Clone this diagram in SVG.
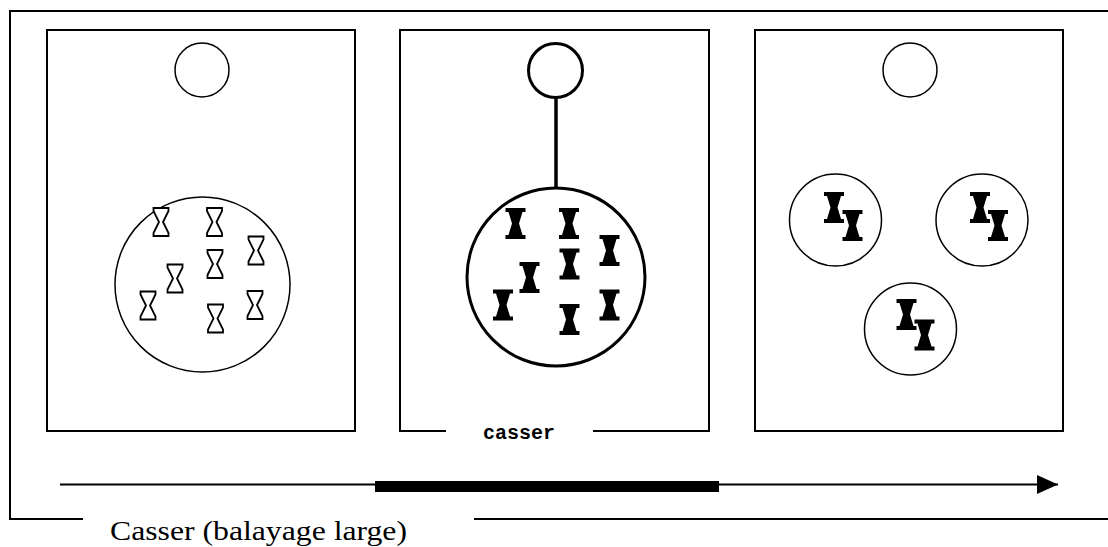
<svg xmlns="http://www.w3.org/2000/svg" width="1108" height="547" viewBox="0 0 1108 547">
<style>
.ln{stroke:#000;stroke-width:2;fill:none}
.panel{fill:#fff;stroke:#000;stroke-width:2}
.thin{fill:#fff;stroke:#000;stroke-width:1.5}
.bold{fill:#fff;stroke:#000;stroke-width:3}
.hg{fill:#fff;stroke:#000;stroke-width:1.8;stroke-linejoin:miter}
.hgb{fill:#000;stroke:none}
.cap{font-family:"Liberation Serif","Times New Roman",serif;font-size:27px;fill:#000}
.lbl{font-family:"Liberation Mono","Courier New",monospace;font-size:20px;font-weight:bold;fill:#000}
</style>
<defs>
<path id="hgThin" d="M-7.5,-14 H7.5 V-11 L2,0 L7.5,11 V14 H-7.5 V11 L-2,0 L-7.5,-11 Z"/>
<path id="hgBold" d="M-10,-15.5 H10 V-11.5 H7 L3.5,0 L7,11.5 H10 V15.5 H-10 V11.5 H-7 L-3.5,0 L-7,-11.5 H-10 Z"/>
<marker id="arr" markerWidth="22" markerHeight="20" refX="21" refY="10" orient="auto" markerUnits="userSpaceOnUse">
<path d="M0,0.5 L21,10 L0,19.5 Z" fill="#000"/>
</marker>
</defs>
<rect width="1108" height="547" fill="#fff"/>

<g id="frame">
<path class="ln" d="M1108,11 H10 V519 H83"/>
<path class="ln" d="M474,519 H1108"/>
<text class="cap" x="110" y="540" textLength="297" lengthAdjust="spacingAndGlyphs">Casser (balayage large)</text>
</g>

<g id="panel1">
<rect class="panel" x="47" y="30" width="308" height="401"/>
<circle class="thin" cx="202" cy="70" r="27"/>
<circle class="thin" cx="202.5" cy="284.5" r="87.5"/>
<g class="hg">
<use href="#hgThin" x="161" y="222"/>
<use href="#hgThin" x="214.5" y="222"/>
<use href="#hgThin" x="256" y="250.5"/>
<use href="#hgThin" x="215" y="264"/>
<use href="#hgThin" x="175" y="278.5"/>
<use href="#hgThin" x="148" y="305.5"/>
<use href="#hgThin" x="255" y="305"/>
<use href="#hgThin" x="215.5" y="318.5"/>
</g>
</g>

<g id="panel2">
<path class="ln" d="M446,431 H400 V30 H709 V431 H593"/>
<circle class="bold" cx="555.5" cy="70.5" r="27"/>
<circle class="bold" cx="556" cy="277" r="89"/>
<g class="hgb">
<use href="#hgBold" x="515.5" y="223.5"/>
<use href="#hgBold" x="569" y="223.5"/>
<use href="#hgBold" x="609.5" y="250.5"/>
<use href="#hgBold" x="569.5" y="264"/>
<use href="#hgBold" x="529.5" y="277.5"/>
<use href="#hgBold" x="503" y="305"/>
<use href="#hgBold" x="609.5" y="305"/>
<use href="#hgBold" x="569.5" y="319.5"/>
</g>
<text class="lbl" x="519" y="439" text-anchor="middle">casser</text>
</g>

<g id="panel3">
<rect class="panel" x="755" y="30" width="308" height="401"/>
<circle class="thin" cx="910" cy="70" r="27"/>
<circle class="thin" cx="835.5" cy="220" r="46"/>
<circle class="thin" cx="982" cy="220" r="46"/>
<circle class="thin" cx="910.5" cy="329" r="46"/>
<g class="hgb">
<use href="#hgBold" x="834" y="207.5"/>
<use href="#hgBold" x="852.5" y="225.5"/>
<use href="#hgBold" x="980" y="207.5"/>
<use href="#hgBold" x="998" y="225.5"/>
<use href="#hgBold" x="906.5" y="314.5"/>
<use href="#hgBold" x="924.5" y="335"/>
</g>
</g>

<g id="connectors">
<line x1="556" y1="97.5" x2="556" y2="188" stroke="#000" stroke-width="3.5"/>
<line x1="60" y1="484.5" x2="1058" y2="484.5" stroke="#000" stroke-width="2" marker-end="url(#arr)"/>
<rect x="375" y="481" width="344" height="11" fill="#000"/>
</g>
</svg>
